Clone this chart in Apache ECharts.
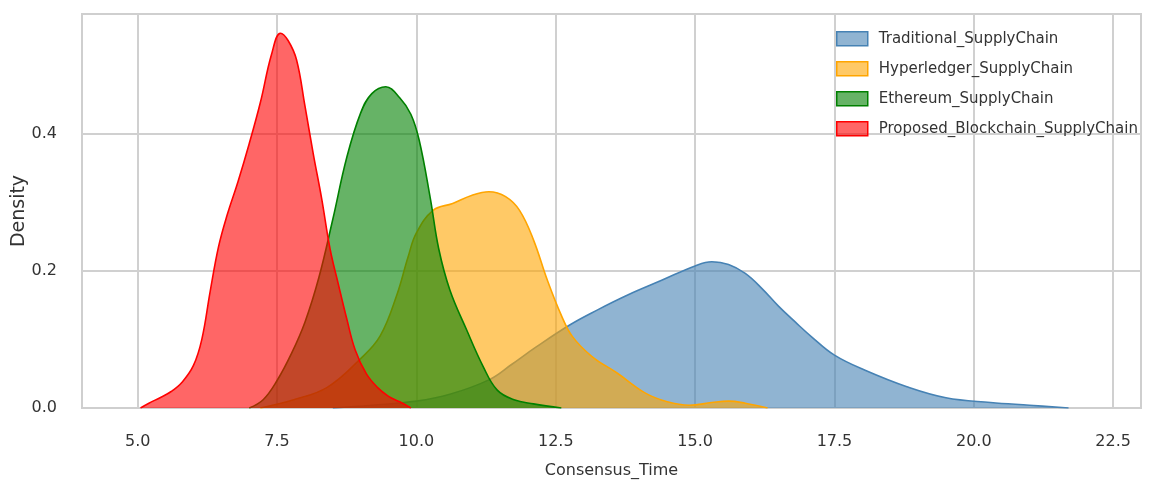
<!DOCTYPE html>
<html>
<head>
<meta charset="utf-8">
<script src="https://cdn.jsdelivr.net/npm/echarts@6/dist/echarts.min.js"></script>
<style>
html,body{margin:0;padding:0;background:#fff;}
#chart{width:1152px;height:486px;}
</style>
</head>
<body>
<div id="chart"></div>
<script>
// ---- data ----
const seriesNames = ['Traditional_SupplyChain', 'Hyperledger_SupplyChain', 'Ethereum_SupplyChain', 'Proposed_Blockchain_SupplyChain'];
const xTicks = [5.0, 7.5, 10.0, 12.5, 15.0, 17.5, 20.0, 22.5];
const yTicks = [0.0, 0.2, 0.4];

const traditionalX = [8.5, 9.2, 10.0, 10.6, 11.3, 11.7, 12.15, 12.75, 13.25, 13.8, 14.4, 15.0, 15.3, 15.6, 15.9, 16.2, 16.5, 16.8, 17.1, 17.5, 18.05, 18.8, 19.5, 20.3, 21.0, 21.7];
const traditionalY = [0, 0.004, 0.01, 0.02, 0.041, 0.063, 0.089, 0.121, 0.143, 0.165, 0.186, 0.207, 0.213, 0.209, 0.196, 0.174, 0.148, 0.125, 0.103, 0.077, 0.055, 0.031, 0.015, 0.008, 0.004, 0];

const hyperledgerX = [7.2, 7.8, 8.4, 9.0, 9.35, 9.65, 9.85, 10.0, 10.3, 10.65, 11.0, 11.3, 11.6, 11.85, 12.1, 12.35, 12.6, 12.8, 13.15, 13.6, 14.1, 14.5, 14.9, 15.3, 15.6, 15.9, 16.3];
const hyperledgerY = [0, 0.012, 0.03, 0.072, 0.105, 0.165, 0.22, 0.255, 0.288, 0.298, 0.31, 0.315, 0.308, 0.288, 0.245, 0.186, 0.135, 0.104, 0.075, 0.051, 0.022, 0.009, 0.004, 0.008, 0.01, 0.007, 0];

const ethereumX = [7.0, 7.25, 7.5, 7.75, 8.0, 8.25, 8.5, 8.75, 9.0, 9.2, 9.45, 9.7, 9.9, 10.05, 10.25, 10.4, 10.6, 10.9, 11.2, 11.45, 11.75, 12.1, 12.6];
const ethereumY = [0, 0.012, 0.04, 0.078, 0.125, 0.19, 0.275, 0.365, 0.43, 0.458, 0.468, 0.452, 0.428, 0.39, 0.305, 0.232, 0.172, 0.114, 0.06, 0.026, 0.012, 0.006, 0];

const proposedX = [5.05, 5.2, 5.4, 5.6, 5.8, 6.0, 6.15, 6.3, 6.45, 6.6, 6.8, 7.0, 7.2, 7.4, 7.56, 7.7, 7.85, 8.0, 8.15, 8.3, 8.45, 8.6, 8.75, 8.9, 9.1, 9.3, 9.5, 9.7, 9.9];
const proposedY = [0, 0.007, 0.015, 0.024, 0.038, 0.062, 0.1, 0.17, 0.235, 0.28, 0.33, 0.385, 0.445, 0.515, 0.546, 0.535, 0.507, 0.44, 0.37, 0.305, 0.232, 0.18, 0.13, 0.085, 0.05, 0.03, 0.017, 0.009, 0];

const lineColors = ['#4682B4', '#FFA500', '#008000', '#FF0000'];
const fillColors = ['rgba(70,130,180,0.6)', 'rgba(255,165,0,0.6)', 'rgba(0,128,0,0.6)', 'rgba(255,0,0,0.6)'];

const xs = [traditionalX, hyperledgerX, ethereumX, proposedX];
const ys = [traditionalY, hyperledgerY, ethereumY, proposedY];

const FONT = 'DejaVu Sans';
const chart = echarts.init(document.getElementById('chart'), null, {renderer: 'canvas'});

const series = seriesNames.map((name, i) => ({
  name: name,
  type: 'line',
  data: xs[i].map((x, k) => [x, ys[i][k]]),
  smooth: 0.4,
  showSymbol: false,
  symbol: 'none',
  lineStyle: {color: lineColors[i], width: 1.6},
  itemStyle: {color: lineColors[i]},
  areaStyle: {color: fillColors[i], opacity: 1},
  z: 2 + i,
  animation: false
}));

chart.setOption({
  animation: false,
  grid: {left: 82, right: 11, top: 14, bottom: 78, show: true, borderColor: '#cfcfcf', borderWidth: 2, containLabel: false, outerBoundsMode: 'none'},
  legend: {
    orient: 'vertical',
    left: 836,
    top: 31,
    padding: 0,
    icon: 'rect',
    itemWidth: 31,
    itemHeight: 14,
    itemGap: 14.5,
    textStyle: {fontFamily: FONT, fontSize: 15, color: '#333', padding: [0, 0, 0, 6]},
    data: seriesNames.map((n, i) => ({name: n, itemStyle: {color: fillColors[i], borderColor: lineColors[i], borderWidth: 1.5}}))
  },
  xAxis: {
    type: 'value',
    min: 4.0,
    max: 23.0,
    name: 'Consensus_Time',
    nameLocation: 'middle',
    nameGap: 55,
    nameMoveOverlap: false,
    nameTextStyle: {fontFamily: FONT, fontSize: 16, color: '#333'},
    axisLine: {show: true, lineStyle: {color: '#cfcfcf', width: 2}},
    axisTick: {show: false, customValues: xTicks},
    axisLabel: {customValues: xTicks, fontFamily: FONT, fontSize: 16, color: '#333', margin: 26, formatter: v => v.toFixed(1)},
    splitLine: {show: true, lineStyle: {color: '#d0d0d0', width: 2}}
  },
  yAxis: {
    type: 'value',
    min: 0,
    max: 0.574,
    name: 'Density',
    nameLocation: 'middle',
    nameGap: 53,
    nameMoveOverlap: false,
    nameRotate: 90,
    nameTextStyle: {fontFamily: FONT, fontSize: 19, color: '#333'},
    axisLine: {show: false},
    axisTick: {show: false, customValues: yTicks},
    axisLabel: {customValues: yTicks, fontFamily: FONT, fontSize: 16, color: '#333', margin: 25, formatter: v => v.toFixed(1)},
    splitLine: {show: true, lineStyle: {color: '#d0d0d0', width: 2}}
  },
  series: series
});
</script>
</body>
</html>
